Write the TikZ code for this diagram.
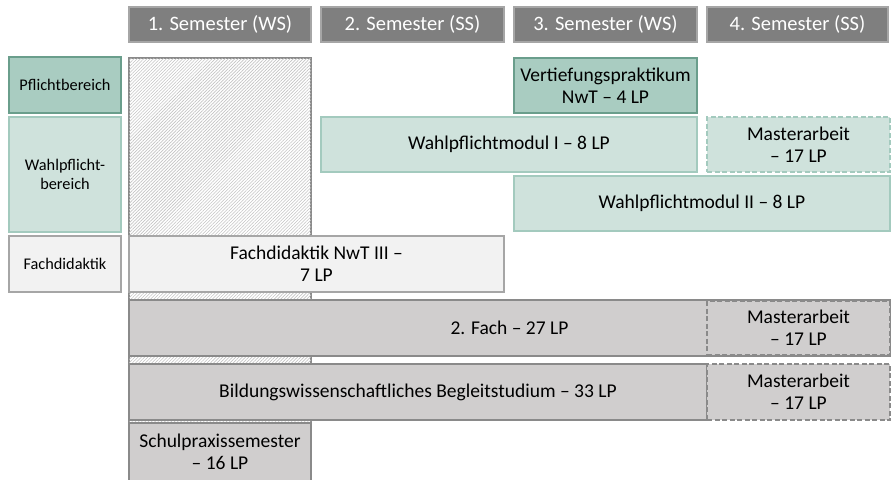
\documentclass[tikz,border=0pt]{standalone}
\usepackage{fontspec}
\setmainfont{Carlito}
\usetikzlibrary{patterns.meta}
\definecolor{hdrfill}{HTML}{7F7F7F}
\definecolor{hdrline}{HTML}{A6A6A6}
\definecolor{pflfill}{HTML}{A9CCC1}
\definecolor{pflline}{HTML}{6A9E8C}
\definecolor{wplfill}{HTML}{CFE2DC}
\definecolor{wplline}{HTML}{A3CABE}
\definecolor{fdfill}{HTML}{F2F2F2}
\definecolor{fdline}{HTML}{A6A6A6}
\definecolor{grfill}{HTML}{D0CECE}
\definecolor{grline}{HTML}{8A8A8A}
\definecolor{hatchcol}{HTML}{C4C4C4}
\tikzset{
  base/.style={rectangle, inner sep=0pt, outer sep=0pt, line width=2pt, align=center,
    font=\fontsize{19.5}{22}\selectfont},
  hdr/.style={base, fill=hdrfill, draw=hdrline, text=white, font=\fontsize{20.5}{22}\selectfont},
  legpfl/.style={base, fill=pflfill, draw=pflline, font=\fontsize{16.3}{19}\selectfont},
  legwpl/.style={base, fill=wplfill, draw=wplline, font=\fontsize{16.3}{19}\selectfont},
  legfd/.style={base, fill=fdfill, draw=fdline, font=\fontsize{16.3}{19}\selectfont},
  pfl/.style={base, fill=pflfill, draw=pflline},
  wpl/.style={base, fill=wplfill, draw=wplline},
  wpldash/.style={base, fill=wplfill, draw=wplline, dash pattern=on 5pt off 2.5pt},
  fd/.style={base, fill=fdfill, draw=fdline},
  gr/.style={base, fill=grfill, draw=grline},
  grdash/.style={base, fill=grfill, draw=grline, dash pattern=on 5pt off 2.5pt},
  hatchbox/.style={rectangle, inner sep=0pt, outer sep=0pt, line width=2pt, draw=grline, fill=white,
    postaction={pattern={Lines[angle=45, distance=2.3pt, line width=0.6pt]}, pattern color=hatchcol}},
}
\begin{document}
\begin{tikzpicture}[x=1pt,y=-1pt]
\useasboundingbox (0,0) rectangle (891,479);
% headers
\node[hdr, minimum width=182pt, minimum height=35pt] (h1) at (220,24.5) {1. Semester (WS)};
\node[hdr, minimum width=183pt, minimum height=35pt] (h2) at (412.5,24.5) {2. Semester (SS)};
\node[hdr, minimum width=183pt, minimum height=35pt] (h3) at (605.5,24.5) {3. Semester (WS)};
\node[hdr, minimum width=181pt, minimum height=35pt] (h4) at (797.5,24.5) {4. Semester (SS)};
% legend
\node[legpfl, minimum width=112pt, minimum height=56pt] (lp) at (65,85) {Pflichtbereich};
\node[legwpl, minimum width=112pt, minimum height=115pt] (lw) at (65,174.5) {Wahlpflicht-\\bereich};
\node[legfd, minimum width=112pt, minimum height=56pt] (lf) at (65,264) {Fachdidaktik};
% hatched column
\node[hatchbox, minimum width=182pt, minimum height=367pt] (hatch) at (220,241.5) {};
% modules
\node[pfl, minimum width=183pt, minimum height=55pt] (vp) at (605.5,85.5) {Vertiefungspraktikum\\NwT -- 4 LP};
\node[wpl, minimum width=376pt, minimum height=55pt] (w1) at (509,144.5) {Wahlpflichtmodul I -- 8 LP};
\node[wpldash, minimum width=183pt, minimum height=55pt] (ma1) at (798.5,144.5) {Masterarbeit\\-- 17 LP};
\node[wpl, minimum width=376pt, minimum height=55pt] (w2) at (702,203.5) {Wahlpflichtmodul II -- 8 LP};
\node[fd, minimum width=375pt, minimum height=56pt] (fd) at (316.5,264) {Fachdidaktik NwT III --\\7 LP};
\node[gr, minimum width=761pt, minimum height=56pt] (f2) at (509.5,328) {2. Fach -- 27 LP};
\node[grdash, minimum width=183pt, minimum height=54pt] (ma2) at (798.5,328) {Masterarbeit\\-- 17 LP};
\node[gr, minimum width=578pt, minimum height=56pt] (bw) at (418,392) {Bildungswissenschaftliches Begleitstudium -- 33 LP};
\node[grdash, minimum width=183pt, minimum height=56pt] (ma3) at (798.5,392) {Masterarbeit\\-- 17 LP};
\node[gr, minimum width=182pt, minimum height=58pt] (sp) at (220,452) {Schulpraxissemester\\-- 16 LP};
\end{tikzpicture}
\end{document}
